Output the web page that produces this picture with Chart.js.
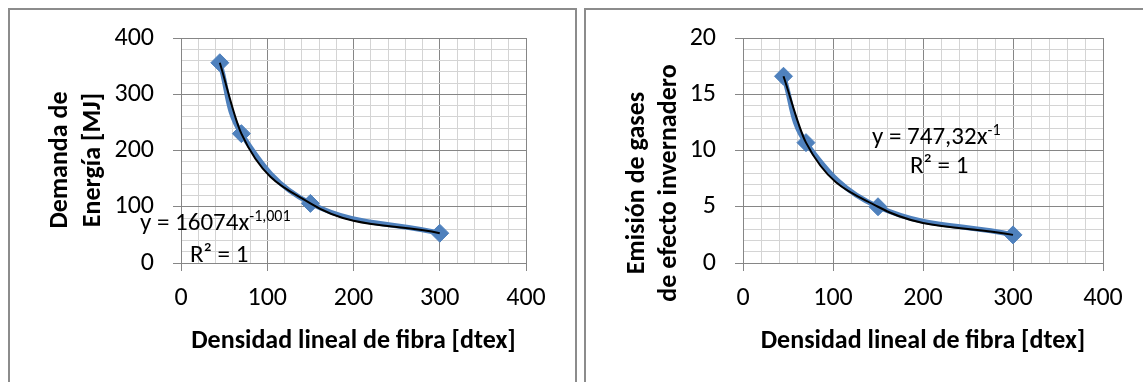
<!DOCTYPE html>
<html><head><meta charset="utf-8">
<script src="https://cdn.jsdelivr.net/npm/chart.js@4.4.1/dist/chart.umd.min.js"></script>
<style>
html,body{margin:0;padding:0;background:#fff;width:1143px;height:382px;overflow:hidden;}
.box{position:absolute;border:2px solid #8c8c8c;box-sizing:border-box;}
#b1{left:8px;top:8px;width:569px;height:420px;}
#b2{left:584px;top:8px;width:620px;height:420px;}
canvas{position:absolute;top:0;}
#c1{left:0px;}
#c2{left:580px;}
</style></head><body>
<div class="box" id="b1"></div>
<div class="box" id="b2"></div>
<canvas id="c1" width="580" height="382"></canvas>
<canvas id="c2" width="563" height="382"></canvas>
<script>
// ---- data ----
const fibraDtex = [45, 70, 150, 300];
const energiaMJ = [356, 230, 106, 53];
const emisionGEI = [16.6, 10.7, 5.0, 2.5];
const xTickLabels = [0, 100, 200, 300, 400];
const energiaTickLabels = [0, 100, 200, 300, 400];
const emisionTickLabels = [0, 5, 10, 15, 20];
const xTitle = 'Densidad lineal de fibra [dtex]';
const energiaTitle = ['Demanda de', 'Energía [MJ]'];
const emisionTitle = ['Emisión de gases', 'de efecto invernadero'];
const energiaEq = {main: 'y = 16074x', sup: '-1,001', r2: 'R² = 1'};
const emisionEq = {main: 'y = 747,32x', sup: '-1', r2: 'R² = 1'};

const FONT = 'Calibri, Carlito, Lato, sans-serif';
const MAJOR = '#868686', MINOR = '#d4d4d4';
const BLUE = '#4F81BD';

const yTitlePlugin = {
  id: 'yTitle',
  afterDraw(chart, args, o) {
    const ctx = chart.ctx;
    ctx.save();
    ctx.font = 'bold ' + o.size + 'px ' + FONT;
    ctx.fillStyle = '#000';
    ctx.textAlign = 'center';
    ctx.textBaseline = 'middle';
    o.lines.forEach((t, i) => {
      ctx.save();
      ctx.translate(o.xs[i], o.y);
      ctx.rotate(-Math.PI / 2);
      ctx.fillText(t, 0, 0);
      ctx.restore();
    });
    ctx.restore();
  }
};

const eqPlugin = {
  id: 'eqLabel',
  afterDraw(chart, args, o) {
    const ctx = chart.ctx;
    ctx.save();
    ctx.fillStyle = '#000';
    ctx.textAlign = 'left';
    ctx.textBaseline = 'alphabetic';
    ctx.font = o.size + 'px ' + FONT;
    ctx.fillText(o.eq.main, o.x, o.y);
    const w = ctx.measureText(o.eq.main).width;
    ctx.font = o.supSize + 'px ' + FONT;
    ctx.fillText(o.eq.sup, o.x + w, o.y - o.supRise);
    ctx.font = o.size + 'px ' + FONT;
    ctx.fillText(o.eq.r2, o.rx, o.ry);
    ctx.restore();
  }
};

function makeChart(id, yValues, yLabels, yStep, yTitleOpts, eqOpts, pad) {
  const yMajor = yLabels[1] - yLabels[0];
  const xMajor = xTickLabels[1] - xTickLabels[0];
  const isMajor = (v, m) => Math.abs(v / m - Math.round(v / m)) < 1e-6;
  return new Chart(document.getElementById(id), {
    type: 'scatter',
    data: {
      datasets: [
        {
          label: 'Tendencia',
          data: fibraDtex.map((x, i) => ({x, y: yValues[i]})),
          showLine: true,
          borderColor: '#000',
          borderWidth: 2,
          pointRadius: 0,
          cubicInterpolationMode: 'monotone',
          fill: false
        },
        {
          label: 'Serie',
          data: fibraDtex.map((x, i) => ({x, y: yValues[i]})),
          showLine: true,
          borderColor: BLUE,
          borderWidth: 5,
          tension: 0.4,
          pointStyle: 'rectRot',
          pointRadius: 9,
          pointBackgroundColor: BLUE,
          pointBorderColor: BLUE,
          pointBorderWidth: 1,
          fill: false
        }
      ]
    },
    options: {
      responsive: false,
      animation: false,
      events: [],
      layout: {padding: pad},
      plugins: {
        legend: {display: false},
        tooltip: {enabled: false},
        yTitle: yTitleOpts,
        eqLabel: eqOpts
      },
      scales: {
        x: {
          type: 'linear',
          min: xTickLabels[0],
          max: xTickLabels[xTickLabels.length - 1],
          afterFit: s => { s.height = pad.xh; },
          border: {display: true, color: MAJOR, width: 1},
          grid: {
            color: c => (c.tick && isMajor(c.tick.value, xMajor)) ? MAJOR : MINOR,
            tickColor: c => (c.tick && isMajor(c.tick.value, xMajor)) ? MAJOR : 'rgba(0,0,0,0)',
            tickLength: 8,
            drawTicks: true
          },
          ticks: {
            stepSize: 20,
            autoSkip: false,
            maxRotation: 0,
            padding: 12,
            color: '#000',
            font: {family: FONT, size: 26},
            callback: v => xTickLabels.includes(v) ? String(v) : ''
          },
          title: {
            display: true,
            text: xTitle,
            color: '#000',
            font: {family: FONT, size: 26, weight: 'bold'},
            padding: {top: 0, bottom: 25}
          }
        },
        y: {
          type: 'linear',
          min: yLabels[0],
          max: yLabels[yLabels.length - 1],
          afterFit: s => { s.width = pad.yw; },
          border: {display: true, color: MAJOR, width: 1},
          grid: {
            color: c => (c.tick && isMajor(c.tick.value, yMajor)) ? MAJOR : MINOR,
            tickColor: c => (c.tick && isMajor(c.tick.value, yMajor)) ? MAJOR : 'rgba(0,0,0,0)',
            tickLength: 8,
            drawTicks: true
          },
          ticks: {
            stepSize: yStep,
            autoSkip: false,
            padding: 19,
            color: '#000',
            font: {family: FONT, size: 26},
            callback: v => yLabels.includes(v) ? String(v) : ''
          }
        }
      }
    },
    plugins: [yTitlePlugin, eqPlugin]
  });
}

makeChart('c1', energiaMJ, energiaTickLabels, 20,
  {lines: energiaTitle, xs: [60, 93], y: 160, size: 26},
  {eq: energiaEq, x: 140, y: 230, size: 25, supSize: 16, supRise: 9, rx: 190, ry: 262},
  {left: 0, top: 38, right: 54, bottom: 0, xh: 119, yw: 181});

makeChart('c2', emisionGEI, emisionTickLabels, 1,
  {lines: emisionTitle, xs: [57, 89], y: 183, size: 26},
  {eq: emisionEq, x: 292, y: 144, size: 25, supSize: 16, supRise: 9, rx: 330, ry: 173},
  {left: 0, top: 38, right: 40, bottom: 0, xh: 119, yw: 163});
</script>
</body></html>
